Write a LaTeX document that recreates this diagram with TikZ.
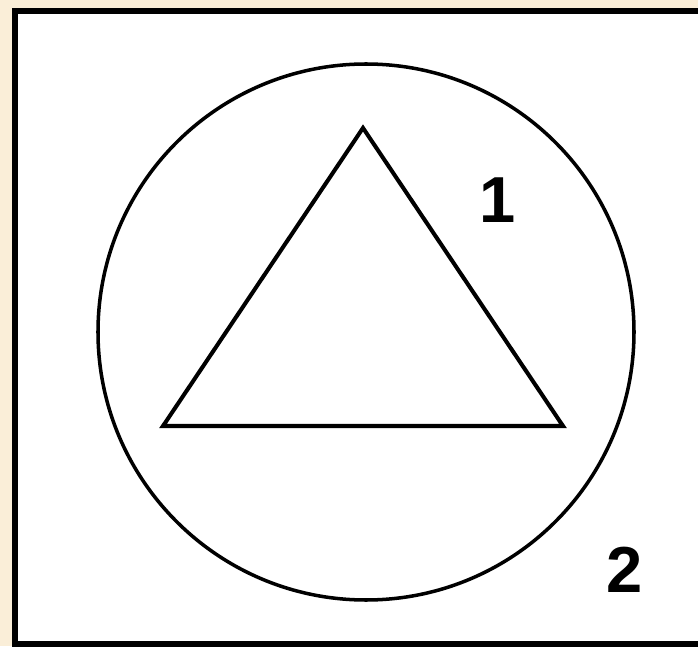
\documentclass[tikz,border=0pt]{standalone}
\usepackage{fontspec}
\setmainfont{Liberation Sans}
\definecolor{parchment}{RGB}{250,238,216}

\begin{document}
\begin{tikzpicture}[x=1cm,y=1cm]

%=================================================
% BACKGROUND AND FRAME
%=================================================

\fill[parchment]
(0,0) rectangle (13.96,12.92);
\useasboundingbox
(0,0) rectangle (13.96,12.92);

\filldraw[fill=white,line width=3.4pt]
(0.30,12.70) rectangle (14.10,0.04);

%=================================================
% CIRCLE AND TRIANGLE
%=================================================

% outer circle

\draw[line width=2pt]
(7.32,6.28) circle (5.36);

% triangle

\coordinate (apex) at (7.26,10.36);
\coordinate (left) at (3.26,4.40);
\coordinate (right) at (11.26,4.40);

\draw[line width=2.3pt,line join=miter]
(apex)--(right)--(left)--cycle;

%=================================================
% REGION LABELS
%=================================================

\node[font=\bfseries\fontsize{37}{40}\selectfont] (one)
at (9.96,8.92)
{1};

\node[font=\bfseries\fontsize{37}{40}\selectfont] (two)
at (12.50,1.52)
{2};

\end{tikzpicture}
\end{document}
